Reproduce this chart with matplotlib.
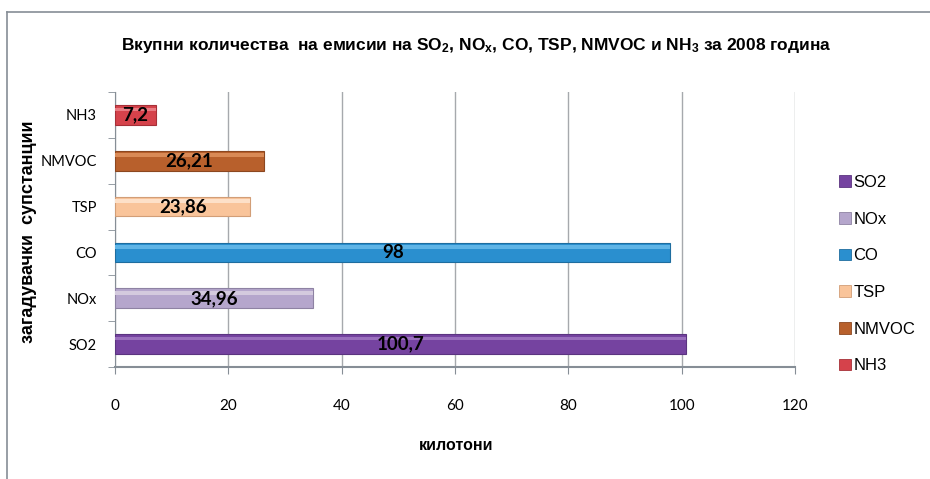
import matplotlib.pyplot as plt
from matplotlib.patches import Patch
from matplotlib.lines import Line2D
import numpy as np

plt.rcParams['mathtext.default'] = 'regular'

substances = ['SO2', 'NOx', 'CO', 'TSP', 'NMVOC', 'NH3']
values = [100.7, 34.96, 98, 23.86, 26.21, 7.2]
value_labels = ['100,7', '34,96', '98', '23,86', '26,21', '7,2']
colors = ['#7543a0', '#b5a6cc', '#2a8fcf', '#f9c49a', '#b8602c', '#d5424b']
edges = ['#5b3480', '#8e82a3', '#1e6d9f', '#d29e77', '#8c4720', '#a63038']
highlights = ['#9a70bd', '#d4cade', '#5fb4e6', '#fde0c8', '#d98a56', '#e87b82']
xticks = [0, 20, 40, 60, 80, 100, 120]

label_font = ['Liberation Sans Narrow', 'Liberation Sans', 'DejaVu Sans']
tick_font = ['Lato', 'DejaVu Sans']

fig = plt.figure(figsize=(9.3, 4.79), dpi=100)
ax = fig.add_axes([0.1237, 0.2338, 0.7311, 0.5741])

y = np.arange(len(substances))
ax.barh(y, values, height=0.43, color=colors, edgecolor=edges, linewidth=0.8, zorder=3)
# lighter strip along the top of each bar
ax.barh(y + 0.12, values, height=0.08, color=highlights, linewidth=0, zorder=4)

for yi, v, lab in zip(y, values, value_labels):
    ax.text(v / 2, yi, lab, ha='center', va='center', fontsize=13.5, fontweight='bold',
            family=tick_font, zorder=5)

ax.set_xlim(0, 120)
ax.set_ylim(-0.5, len(substances) - 0.5)
ax.set_xticks(xticks)
ax.set_xticklabels([str(t) for t in xticks], family=tick_font, fontsize=11)
ax.set_yticks(y)
ax.set_yticklabels(substances, family=tick_font, fontsize=10.5)
ax.tick_params(axis='y', length=0, pad=13)
ax.set_yticks(np.arange(-0.5, len(substances), 1), minor=True)
ax.tick_params(axis='y', which='minor', length=5, color='#868e96', direction='out')
ax.tick_params(axis='x', length=5, color='#868e96', pad=18)
ax.grid(axis='x', color='#a6a9ad', linewidth=1, zorder=0)

for side in ['top', 'right']:
    ax.spines[side].set_visible(False)
ax.spines['left'].set_color('#868e96')
ax.spines['bottom'].set_color('#868e96')
ax.spines['bottom'].set_linewidth(1.5)

fig.text(0.512, 0.905,
         'Вкупни количества  на емисии на SO$_2$, NO$_x$, CO, TSP, NMVOC и NH$_3$ за 2008 година',
         ha='center', va='center', fontsize=12.5, fontweight='bold', family=label_font)
fig.text(0.031, 0.517, 'загадувачки  супстанции', rotation=90, ha='center', va='center',
         fontsize=13, fontweight='bold', family=['Liberation Sans', 'DejaVu Sans'])
fig.text(0.49, 0.07, 'килотони', ha='center', va='center', fontsize=11.5,
         fontweight='bold', family=['Liberation Sans', 'DejaVu Sans'])

handles = [Patch(facecolor=c, edgecolor=e, linewidth=0.6) for c, e in zip(colors, edges)]
fig.legend(handles, substances, loc='upper left', bbox_to_anchor=(0.886, 0.666),
           frameon=False, handlelength=0.7, handleheight=0.7, handletextpad=0.15,
           labelspacing=1.3, prop={'family': label_font, 'size': 12})

# outer chart frame
fig.add_artist(Line2D([0.0075, 0.0075], [0.0, 0.975], transform=fig.transFigure,
                      color='#868e96', linewidth=1.2))
fig.add_artist(Line2D([0.0075, 1.0], [0.975, 0.975], transform=fig.transFigure,
                      color='#868e96', linewidth=1.2))

fig.savefig('out.png', dpi=100)
